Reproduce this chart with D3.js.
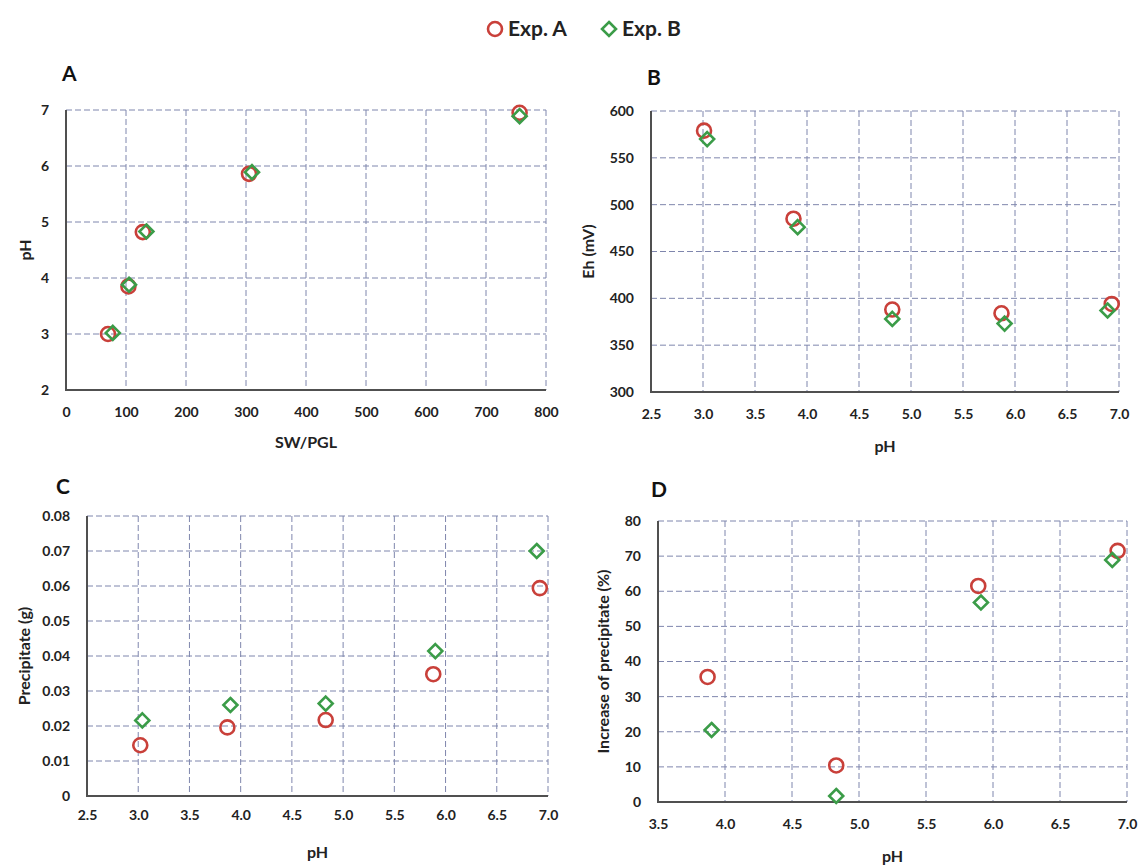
<!DOCTYPE html>
<html>
  <head>
    <title>Exp. A / Exp. B</title>
    <script src="https://cdnjs.cloudflare.com/ajax/libs/d3/7.8.5/d3.min.js"></script>
    <style>
      body {
        margin: 0;
        background: #ffffff;
        font-family: Lato, "Open Sans", sans-serif;
      }
      .grid line {
        stroke: #7f86ad;
        stroke-width: 1px;
        stroke-dasharray: 6 3;
      }
      .axis-line {
        stroke: #505050;
        stroke-width: 2px;
      }
      .tick-label {
        font-size: 14px;
        font-weight: 700;
        fill: #222;
      }
      .axis-title {
        font-size: 16px;
        font-weight: 700;
        fill: #222;
      }
      .panel-letter {
        font-size: 21px;
        font-weight: 700;
        fill: #111;
      }
      .expA {
        fill: none;
        stroke: #c9403a;
        stroke-width: 2.6px;
      }
      .expB {
        fill: none;
        stroke: #3b9c48;
        stroke-width: 2.6px;
      }
    </style>
  </head>
  <body>
    <svg id="chart" width="1140" height="867"></svg>
    <script>
      // Panel A: SW/PGL vs pH
      const swA = [70, 104, 128, 305, 756];
      const phA_A = [3.0, 3.85, 4.82, 5.86, 6.95];
      const swB = [78, 105, 134, 310, 756];
      const phA_B = [3.02, 3.88, 4.83, 5.89, 6.89];

      // Panel B: pH vs Eh (mV)
      const phB_A = [3.01, 3.87, 4.82, 5.87, 6.93];
      const ehA = [579, 485, 388, 384, 394];
      const phB_B = [3.04, 3.91, 4.82, 5.9, 6.89];
      const ehB = [570, 476, 378, 373, 387];

      // Panel C: pH vs precipitate (g)
      const phC_A = [3.02, 3.87, 4.83, 5.88, 6.92];
      const precA = [0.0145, 0.0196, 0.0217, 0.0348, 0.0594];
      const phC_B = [3.04, 3.9, 4.83, 5.9, 6.89];
      const precB = [0.0216, 0.026, 0.0264, 0.0414, 0.07];

      // Panel D: pH vs increase of precipitate (%)
      const phD_A = [3.87, 4.83, 5.89, 6.93];
      const incA = [35.6, 10.4, 61.5, 71.5];
      const phD_B = [3.9, 4.83, 5.91, 6.89];
      const incB = [20.5, 1.7, 56.8, 68.9];

      // axis ticks
      const ticksSW = d3.range(0, 801, 100);
      const ticksPH1 = d3.range(2, 7.01, 1);
      const ticksPH = d3.range(2.5, 7.01, 0.5);
      const ticksPHD = d3.range(3.5, 7.01, 0.5);
      const ticksEh = d3.range(300, 601, 50);
      const ticksPrec = d3.range(0, 0.0801, 0.01);
      const ticksInc = d3.range(0, 81, 10);

      const seriesNames = ["Exp. A", "Exp. B"];

      const svg = d3.select("#chart");

      const panels = [
        {
          letter: "A", x0: 66, x1: 546, y0: 110, y1: 390,
          xTicks: ticksSW, yTicks: ticksPH1,
          xFmt: d3.format("d"), yFmt: d3.format("d"),
          xTitle: "SW/PGL", yTitle: "pH",
          a: { x: swA, y: phA_A }, b: { x: swB, y: phA_B },
          letterPos: [62, 74], yTitleX: 25, xPad: 17, xTitleGap: 58,
        },
        {
          letter: "B", x0: 651, x1: 1119, y0: 111, y1: 392,
          xTicks: ticksPH, yTicks: ticksEh,
          xFmt: d3.format(".1f"), yFmt: d3.format("d"),
          xTitle: "pH", yTitle: "Eh (mV)",
          a: { x: phB_A, y: ehA }, b: { x: phB_B, y: ehB },
          letterPos: [647, 78], yTitleX: 588, xPad: 17, xTitleGap: 60,
        },
        {
          letter: "C", x0: 87, x1: 548, y0: 516, y1: 796,
          xTicks: ticksPH, yTicks: ticksPrec,
          xFmt: d3.format(".1f"), yFmt: (d) => (d === 0 ? "0" : d3.format(".2f")(d)),
          xTitle: "pH", yTitle: "Precipitate (g)",
          a: { x: phC_A, y: precA }, b: { x: phC_B, y: precB },
          letterPos: [56, 487], yTitleX: 24, xPad: 14, xTitleGap: 62,
        },
        {
          letter: "D", x0: 658, x1: 1127, y0: 521, y1: 802,
          xTicks: ticksPHD, yTicks: ticksInc,
          xFmt: d3.format(".1f"), yFmt: d3.format("d"),
          xTitle: "pH", yTitle: "Increase of precipitate (%)",
          a: { x: phD_A, y: incA }, b: { x: phD_B, y: incB },
          letterPos: [651, 490], yTitleX: 603, xPad: 17, xTitleGap: 60,
        },
      ];

      const diamond = (r) => `M0,${-r}L${r},0L0,${r}L${-r},0Z`;

      panels.forEach((p) => {
        const x = d3
          .scaleLinear()
          .domain(d3.extent(p.xTicks))
          .range([p.x0, p.x1]);
        const y = d3
          .scaleLinear()
          .domain(d3.extent(p.yTicks))
          .range([p.y1, p.y0]);

        const g = svg.append("g");

        // dashed gridlines
        const grid = g.append("g").attr("class", "grid");
        grid
          .selectAll("line.v")
          .data(p.xTicks.slice(1))
          .enter()
          .append("line")
          .attr("x1", (d) => x(d))
          .attr("x2", (d) => x(d))
          .attr("y1", p.y0)
          .attr("y2", p.y1);
        grid
          .selectAll("line.h")
          .data(p.yTicks.slice(1))
          .enter()
          .append("line")
          .attr("x1", p.x0)
          .attr("x2", p.x1)
          .attr("y1", (d) => y(d))
          .attr("y2", (d) => y(d));

        // axes (no tick marks, labels only)
        const xAxis = g
          .append("g")
          .attr("transform", `translate(0,${p.y1})`)
          .call(d3.axisBottom(x).tickValues(p.xTicks).tickFormat(p.xFmt).tickSize(0).tickPadding(p.xPad));
        const yAxis = g
          .append("g")
          .attr("transform", `translate(${p.x0},0)`)
          .call(d3.axisLeft(y).tickValues(p.yTicks).tickFormat(p.yFmt).tickSize(0).tickPadding(17));
        [xAxis, yAxis].forEach((ax) => {
          ax.select(".domain").remove();
          ax.selectAll("text").attr("class", "tick-label");
          ax.attr("font-family", null).attr("font-size", null);
        });

        g.append("line")
          .attr("class", "axis-line")
          .attr("x1", p.x0).attr("x2", p.x0)
          .attr("y1", p.y0).attr("y2", p.y1 + 1);
        g.append("line")
          .attr("class", "axis-line")
          .attr("x1", p.x0 - 1).attr("x2", p.x1)
          .attr("y1", p.y1).attr("y2", p.y1);

        // titles
        g.append("text")
          .attr("class", "axis-title")
          .attr("x", (p.x0 + p.x1) / 2)
          .attr("y", p.y1 + p.xTitleGap)
          .attr("text-anchor", "middle")
          .text(p.xTitle);
        g.append("text")
          .attr("class", "axis-title")
          .attr("transform", `translate(${p.yTitleX},${(p.y0 + p.y1) / 2}) rotate(-90)`)
          .attr("text-anchor", "middle")
          .attr("dy", "0.35em")
          .text(p.yTitle);
        g.append("text")
          .attr("class", "panel-letter")
          .attr("x", p.letterPos[0])
          .attr("y", p.letterPos[1])
          .attr("dy", "0.35em")
          .text(p.letter);

        // markers
        g.selectAll("circle.expA")
          .data(d3.zip(p.a.x, p.a.y))
          .enter()
          .append("circle")
          .attr("class", "expA")
          .attr("cx", (d) => x(d[0]))
          .attr("cy", (d) => y(d[1]))
          .attr("r", 7);
        g.selectAll("path.expB")
          .data(d3.zip(p.b.x, p.b.y))
          .enter()
          .append("path")
          .attr("class", "expB")
          .attr("d", diamond(7))
          .attr("transform", (d) => `translate(${x(d[0])},${y(d[1])})`);
      });

      // legend
      const legend = svg.append("g").attr("transform", "translate(495,29)");
      legend.append("circle").attr("class", "expA").attr("r", 7);
      legend
        .append("text")
        .attr("x", 13)
        .attr("dy", "0.35em")
        .attr("font-size", 21)
        .attr("font-weight", 700)
        .attr("fill", "#222")
        .text(seriesNames[0]);
      legend
        .append("path")
        .attr("class", "expB")
        .attr("d", diamond(7))
        .attr("transform", "translate(114,0)");
      legend
        .append("text")
        .attr("x", 127)
        .attr("dy", "0.35em")
        .attr("font-size", 21)
        .attr("font-weight", 700)
        .attr("fill", "#222")
        .text(seriesNames[1]);
    </script>
  </body>
</html>
